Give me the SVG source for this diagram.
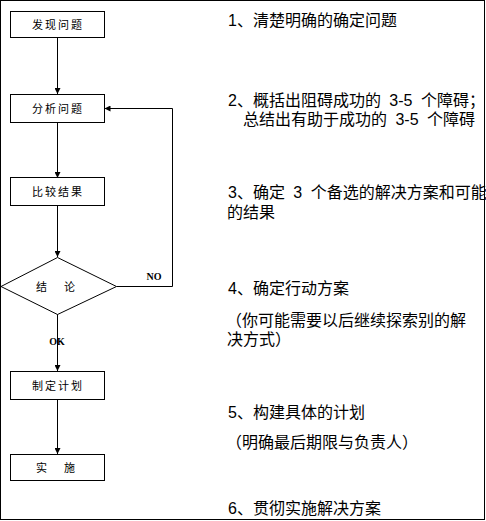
<svg xmlns="http://www.w3.org/2000/svg" width="486" height="521" viewBox="0 0 486 521">
<style>
.box{fill:#fff;stroke:#000;stroke-width:1}
.bt{font-family:"Noto Sans CJK SC",sans-serif;font-size:11px;letter-spacing:2px;text-anchor:middle;fill:#000}
.rt{font-family:"Liberation Sans","Noto Sans CJK SC",sans-serif;font-size:16px;word-spacing:4px;fill:#000}
.lab{font-family:"Liberation Serif",serif;font-size:10px;font-weight:bold;text-anchor:middle;fill:#000}
.ln{fill:none;stroke:#000;stroke-width:1}
</style>
<defs>
<marker id="ah" markerWidth="6" markerHeight="6" refX="6" refY="3" orient="auto" markerUnits="userSpaceOnUse">
<path d="M0,0 L6,3 L0,6 Z" fill="#000"/>
</marker>
</defs>
<rect x="0" y="0" width="486" height="521" fill="#fff"/>
<rect x="0.5" y="0.5" width="484" height="519" fill="none" stroke="#000" stroke-width="1"/>
<g id="connectors">
<path class="ln" d="M57.5,37 V94" marker-end="url(#ah)"/>
<path class="ln" d="M57.5,122 V178" marker-end="url(#ah)"/>
<path class="ln" d="M57.5,205 V257" marker-end="url(#ah)"/>
<path class="ln" d="M116.5,286.5 H172.5 V108.5 H104.5" marker-end="url(#ah)"/>
<path class="ln" d="M57.5,314 V371" marker-end="url(#ah)"/>
<path class="ln" d="M57.5,399 V454" marker-end="url(#ah)"/>
<text class="lab" x="154" y="279.5">NO</text>
<text class="lab" x="57" y="345">OK</text>
</g>
<g id="n1"><rect class="box" x="10.5" y="11.5" width="94" height="26"/><text class="bt" x="58" y="28.5">发现问题</text></g>
<g id="n2"><rect class="box" x="10.5" y="94.5" width="94" height="28"/><text class="bt" x="58" y="112.5">分析问题</text></g>
<g id="n3"><rect class="box" x="10.5" y="177.5" width="94" height="28"/><text class="bt" x="58" y="195.5">比较结果</text></g>
<g id="n4"><path class="box" d="M57.5,257.5 L116.5,286.5 L57.5,314.5 L1,286.5 Z"/><text class="bt" x="57" y="290.5" style="letter-spacing:3px">结　论</text></g>
<g id="n5"><rect class="box" x="10.5" y="371.5" width="94" height="28"/><text class="bt" x="58" y="389.5">制定计划</text></g>
<g id="n6"><rect class="box" x="10.5" y="454.5" width="94" height="26"/><text class="bt" x="57" y="471.5" style="letter-spacing:3px">实　施</text></g>
<g id="notes">
<text class="rt" x="228" y="26">1、清楚明确的确定问题</text>
<text class="rt" x="228" y="106">2、概括出阻碍成功的 3-5 个障碍；</text>
<text class="rt" x="243" y="124.5">总结出有助于成功的 3-5 个障碍</text>
<text class="rt" x="228" y="198">3、确定 3 个备选的解决方案和可能</text>
<text class="rt" x="227" y="218">的结果</text>
<text class="rt" x="228" y="294">4、确定行动方案</text>
<text class="rt" x="226" y="326">（你可能需要以后继续探索别的解</text>
<text class="rt" x="227" y="345">决方式）</text>
<text class="rt" x="228" y="418">5、构建具体的计划</text>
<text class="rt" x="226" y="448">（明确最后期限与负责人）</text>
<text class="rt" x="228" y="514">6、贯彻实施解决方案</text>
</g>
</svg>
